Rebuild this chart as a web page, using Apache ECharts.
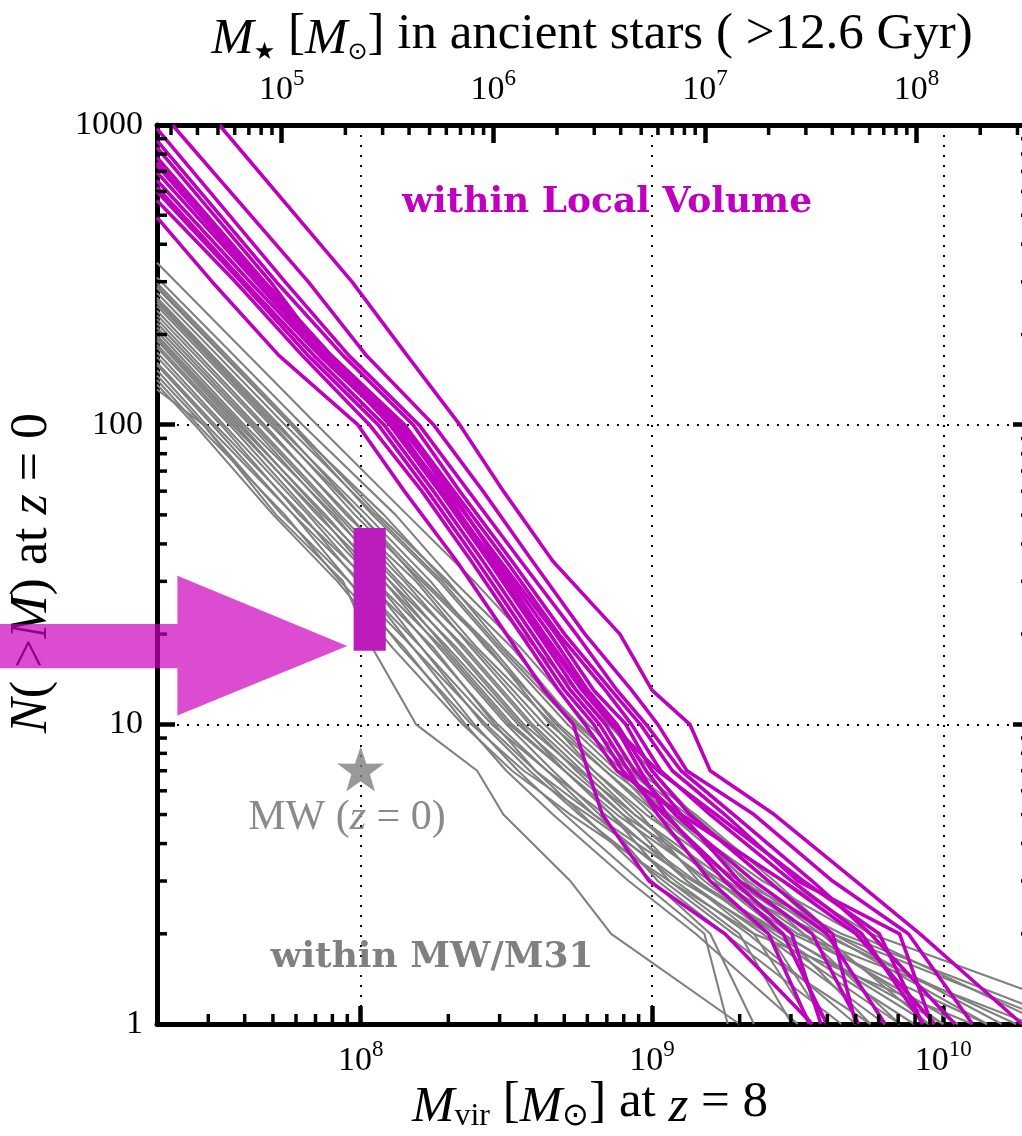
<!DOCTYPE html>
<html><head><meta charset="utf-8">
<script src="https://cdn.jsdelivr.net/npm/echarts@6/dist/echarts.min.js"></script>
<style>html,body{margin:0;padding:0;background:#fff}#c{width:1022px;height:1136px}</style>
</head><body><div id="c"></div>
<script>
// ---------------- data ----------------
const xRange = [2e7, 2e10];            // M_vir at z=8
const yRange = [1, 1000];              // N(>M)
const topRange = [2.576e4, 3.475e8];   // M_star in ancient stars, matched to the bottom axis
const xMinorTicks = [3e7,4e7,5e7,6e7,7e7,8e7,9e7,2e8,3e8,4e8,5e8,6e8,7e8,8e8,9e8,2e9,3e9,4e9,5e9,6e9,7e9,8e9,9e9];
const yMinorTicks = [2,3,4,5,6,7,8,9,20,30,40,50,60,70,80,90,200,300,400,500,600,700,800,900];
const topMinorTicks = [3e4,4e4,5e4,6e4,7e4,8e4,9e4,2e5,3e5,4e5,5e5,6e5,7e5,8e5,9e5,2e6,3e6,4e6,5e6,6e6,7e6,8e6,9e6,2e7,3e7,4e7,5e7,6e7,7e7,8e7,9e7,2e8,3e8];

// gray (within MW/M31): first value = N at M=2e7, then log10 M at each N level
const grayLevels = [100, 50, 30, 18, 10, 7, 5, 3, 2, 1];
const grayLines = [
  [347, 7.85, 8.16, 8.39, 8.60, 8.85, 9.00, 9.14, 9.40, 9.60, 10.15],
  [310, 7.80, 8.12, 8.32, 8.55, 8.78, 8.95, 9.15, 9.42, 9.62, 10.40],
  [297, 7.77, 8.06, 8.30, 8.49, 8.75, 8.92, 9.10, 9.32, 9.52, 9.85],
  [290, 7.76, 8.08, 8.29, 8.52, 8.74, 8.93, 9.12, 9.45, 9.75, 10.60],
  [286, 7.76, 8.04, 8.27, 8.47, 8.71, 8.88, 9.02, 9.28, 9.62, 10.20],
  [275, 7.74, 8.05, 8.28, 8.48, 8.73, 8.90, 9.06, 9.38, 9.70, 10.35],
  [265, 7.72, 8.00, 8.22, 8.45, 8.67, 8.84, 9.00, 9.22, 9.45, 9.75],
  [260, 7.71, 8.02, 8.24, 8.43, 8.68, 8.86, 9.06, 9.33, 9.58, 9.95],
  [255, 7.70, 7.98, 8.21, 8.44, 8.65, 8.84, 9.02, 9.28, 9.55, 10.00],
  [249, 7.69, 8.00, 8.20, 8.40, 8.66, 8.80, 8.96, 9.16, 9.40, 9.60],
  [240, 7.67, 7.95, 8.19, 8.38, 8.61, 8.78, 8.94, 9.22, 9.48, 10.15],
  [232, 7.66, 7.96, 8.16, 8.39, 8.63, 8.80, 8.98, 9.30, 9.65, 10.45],
  [225, 7.64, 7.93, 8.15, 8.35, 8.58, 8.74, 8.90, 9.12, 9.35, 9.55],
  [218, 7.63, 7.92, 8.13, 8.36, 8.59, 8.76, 8.92, 9.18, 9.42, 9.90],
  [211, 7.62, 7.90, 8.12, 8.32, 8.55, 8.70, 8.86, 9.06, 9.30, 9.48],
  [205, 7.60, 7.91, 8.10, 8.33, 8.56, 8.75, 8.94, 9.26, 9.52, 10.05],
  [199, 7.59, 7.87, 8.10, 8.29, 8.52, 8.70, 8.86, 9.12, 9.38, 9.80],
  [195, 7.58, 7.88, 8.08, 8.30, 8.54, 8.72, 8.90, 9.24, 9.50, 10.30],
  [191, 7.57, 7.85, 8.08, 8.27, 8.50, 8.66, 8.82, 9.02, 9.25, 9.65],
  [185, 7.56, 7.86, 8.05, 8.28, 8.51, 8.70, 8.88, 9.20, 9.58, 10.25],
  [181, 7.55, 7.83, 8.05, 8.24, 8.47, 8.64, 8.80, 9.08, 9.33, 9.70],
  [174, 7.53, 7.82, 8.02, 8.25, 8.46, 8.60, 8.76, 9.00, 9.20, 9.35],
  [168, 7.52, 7.79, 8.03, 8.21, 8.45, 8.64, 8.84, 9.15, 9.45, 9.95],
  [161, 7.50, 7.80, 7.99, 8.21, 8.42, 8.58, 8.75, 9.04, 9.28, 9.75],
  [158, 7.49, 7.77, 8.00, 8.18, 8.43, 8.60, 8.80, 9.14, 9.44, 10.00],
  [152, 7.47, 7.77, 7.96, 8.18, 8.39, 8.54, 8.70, 8.96, 9.18, 9.26],
  [146, 7.46, 7.73, 7.96, 8.14, 8.38, 8.56, 8.78, 9.10, 9.40, 9.85],
  [141, 7.44, 7.74, 7.93, 8.15, 8.36, 8.50, 8.66, 8.92, 9.15, 9.50],
  [136, 7.43, 7.70, 7.92, 8.11, 8.35, 8.52, 8.72, 9.06, 9.35, 10.10],
  [131, 7.46, 7.71, 7.94, 8.04, 8.19, 8.40, 8.49, 8.72, 8.86, 9.30]
];

// magenta (within Local Volume): [log10 M at start, N at start, then log10 M at each N level]
const lvLevels = [300, 170, 100, 60, 35, 20, 13, 10, 7, 5, 3, 2, 1];
const lvLines = [
  [7.515, 1000, 7.97, 8.16, 8.34, 8.49, 8.66, 8.89, 9.00, 9.13, 9.20, 9.42, 9.70, 9.92, 10.27],
  [7.354, 1000, 7.82, 8.02, 8.25, 8.42, 8.59, 8.77, 8.93, 9.02, 9.12, 9.35, 9.62, 9.88, 10.10],
  [7.301, 973, 7.74, 7.96, 8.20, 8.37, 8.55, 8.74, 8.88, 8.98, 9.10, 9.28, 9.55, 9.75, 10.04],
  [7.301, 887, 7.71, 7.94, 8.18, 8.34, 8.52, 8.70, 8.86, 8.96, 9.07, 9.25, 9.50, 9.85, 9.96],
  [7.301, 780, 7.67, 7.90, 8.15, 8.32, 8.50, 8.68, 8.84, 8.93, 9.03, 9.20, 9.48, 9.72, 9.93],
  [7.301, 750, 7.66, 7.89, 8.14, 8.30, 8.48, 8.67, 8.80, 8.91, 9.00, 9.13, 9.40, 9.62, 9.70],
  [7.301, 733, 7.65, 7.88, 8.13, 8.31, 8.47, 8.65, 8.78, 8.88, 8.98, 9.10, 9.30, 9.55, 9.71],
  [7.301, 695, 7.64, 7.87, 8.12, 8.28, 8.46, 8.63, 8.77, 8.87, 8.96, 9.05, 9.25, 9.45, 9.60],
  [7.301, 653, 7.62, 7.86, 8.11, 8.29, 8.45, 8.62, 8.76, 8.86, 9.02, 9.22, 9.52, 9.78, 9.93],
  [7.301, 840, 7.69, 7.88, 8.10, 8.27, 8.44, 8.61, 8.74, 8.84, 8.94, 9.08, 9.35, 9.60, 9.80],
  [7.301, 620, 7.60, 7.84, 8.08, 8.25, 8.42, 8.59, 8.72, 8.82, 8.92, 9.02, 9.20, 9.40, 9.54],
  [7.301, 600, 7.59, 7.82, 8.06, 8.23, 8.40, 8.57, 8.70, 8.80, 8.90, 9.04, 9.28, 9.48, 9.58],
  [7.301, 560, 7.57, 7.80, 8.03, 8.21, 8.38, 8.55, 8.68, 8.77, 8.88, 9.10, 9.45, 9.70, 9.97],
  [7.301, 492, 7.49, 7.72, 7.99, 8.15, 8.33, 8.50, 8.63, 8.73, 8.78, 8.83, 8.99, 9.25, 9.55]
];

// annotations
const arrowM = [1e6, 2.35e7, 9.0e7];          // tail, head base, tip
const arrowN = [10.7, 15.4, 18.27, 21.6, 31.3]; // head bottom, shaft bottom, centre, shaft top, head top
const obsBoxM = [9.46e7, 1.22e8];
const obsBoxN = [17.6, 45.2];
const mwStar = [1e8, 7.1];

// ---------------- chart ----------------
const SERIF = 'Liberation Serif';
const isPow10 = v => Math.abs(Math.log10(v) - Math.round(Math.log10(v))) < 1e-6;
const powLabel = v => isPow10(v) ? '{b|10}{s|' + Math.round(Math.log10(v)) + '}' : '';
const powRich = {
  b: {fontFamily: SERIF, fontSize: 34, color: '#000', lineHeight: 40, verticalAlign: 'bottom'},
  s: {fontFamily: SERIF, fontSize: 23, color: '#000', lineHeight: 24, verticalAlign: 'top'}
};
const dotted = {show: true, lineStyle: {color: '#000', width: 2, type: [2, 8]}};
const spine = {show: true, lineStyle: {color: '#000', width: 5}};
const majorTick = {show: true, inside: true, length: 18, lineStyle: {color: '#000', width: 4.5}};

const toPts = (startM, startN, levels, logMs) =>
  [[Math.pow(10, startM), startN]].concat(levels.map((n, i) => [Math.pow(10, logMs[i]), n]));

const series = [];
grayLines.forEach((g, i) => series.push({
  type: 'line', name: 'gray' + i, xAxisIndex: 0, yAxisIndex: 0, symbol: 'none', silent: true,
  lineStyle: {color: '#808080', width: 2.1, join: 'round'}, z: 2,
  data: toPts(Math.log10(xRange[0]), g[0], grayLevels, g.slice(1))
}));
lvLines.forEach((l, i) => series.push({
  type: 'line', name: 'lv' + i, xAxisIndex: 0, yAxisIndex: 0, symbol: 'none', silent: true,
  lineStyle: {color: '#bf00bf', width: 3.6, join: 'round'}, z: 3,
  data: toPts(l[0], l[1], lvLevels, l.slice(2))
}));

function tickSeries(xIdx, data, dx, dy, width) {
  return {
    type: 'custom', xAxisIndex: xIdx, yAxisIndex: 0, silent: true, clip: false, z: 6,
    data: data,
    renderItem: (p, api) => {
      const c = api.coord([api.value(0), api.value(1)]);
      return {type: 'line', shape: {x1: c[0], y1: c[1], x2: c[0] + dx, y2: c[1] + dy},
              style: {stroke: '#000', lineWidth: width}};
    }
  };
}
series.push(tickSeries(0, xMinorTicks.map(v => [v, yRange[0]]), 0, -10, 3.5));
series.push(tickSeries(0, yMinorTicks.map(v => [xRange[0], v]), 10, 0, 3.5));
series.push(tickSeries(0, yMinorTicks.map(v => [xRange[1], v]), -10, 0, 3.5));
series.push(tickSeries(1, topMinorTicks.map(v => [v, yRange[1]]), 0, 10, 3.5));

series.push({
  type: 'custom', xAxisIndex: 0, yAxisIndex: 0, silent: true, clip: false, z: 8,
  data: [[obsBoxM[0], obsBoxN[0]]],
  renderItem: (p, api) => {
    const a = api.coord([obsBoxM[0], obsBoxN[1]]), b = api.coord([obsBoxM[1], obsBoxN[0]]);
    return {type: 'rect', shape: {x: a[0], y: a[1], width: b[0] - a[0], height: b[1] - a[1]},
            style: {fill: '#bb1cbb'}};
  }
});
series.push({
  type: 'custom', xAxisIndex: 0, yAxisIndex: 0, silent: true, clip: false, z: 9,
  data: [[arrowM[2], arrowN[2]]],
  renderItem: (p, api) => {
    const P = (m, n) => api.coord([m, n]);
    const pts = [P(arrowM[0], arrowN[3]), P(arrowM[1], arrowN[3]), P(arrowM[1], arrowN[4]),
                 P(arrowM[2], arrowN[2]), P(arrowM[1], arrowN[0]), P(arrowM[1], arrowN[1]),
                 P(arrowM[0], arrowN[1])];
    return {type: 'polygon', shape: {points: pts}, style: {fill: 'rgba(204,0,190,0.7)'}};
  }
});
series.push({
  type: 'scatter', xAxisIndex: 0, yAxisIndex: 0, silent: true, z: 8,
  symbol: 'path://M50,0 L61.8,35.3 L98.1,34.5 L69,56.5 L79.4,91.3 L50,70.6 L20.6,91.3 L31,56.5 L1.9,34.5 L38.2,35.3 Z',
  symbolSize: [47, 45], itemStyle: {color: '#808080'},
  data: [mwStar]
});

const option = {
  animation: false,
  backgroundColor: '#fff',
  grid: {left: 157, top: 125, right: -9, bottom: 112, containLabel: false, outerBoundsMode: 'none'},
  xAxis: [
    {type: 'log', logBase: 10, min: xRange[0], max: xRange[1], position: 'bottom',
     axisLine: spine, axisTick: majorTick, splitLine: dotted, minorTick: {show: false},
     axisLabel: {formatter: powLabel, rich: powRich, margin: 14, hideOverlap: false}},
    {type: 'log', logBase: 10, min: topRange[0], max: topRange[1], position: 'top',
     axisLine: spine, axisTick: majorTick, splitLine: {show: false},
     axisLabel: {formatter: powLabel, rich: powRich, margin: 18, hideOverlap: false}}
  ],
  yAxis: [
    {type: 'log', logBase: 10, min: yRange[0], max: yRange[1], position: 'left',
     axisLine: spine, axisTick: majorTick, splitLine: dotted,
     axisLabel: {formatter: v => isPow10(v) ? String(Math.round(v)) : '', fontFamily: SERIF,
                 fontSize: 34, color: '#000', margin: 14}},
    {type: 'log', logBase: 10, min: yRange[0], max: yRange[1], position: 'right',
     axisLine: spine, axisTick: majorTick, splitLine: {show: false}, axisLabel: {show: false}}
  ],
  graphic: [
    {type: 'text', z: 20, style: {
      x: 592, y: 35, align: 'center', verticalAlign: 'middle',
      text: '{i|M}{sub|★} [{i|M}{sub|⊙}] in ancient stars ( >12.6 Gyr)',
      rich: {
        i: {fontFamily: SERIF, fontStyle: 'italic', fontSize: 51, lineHeight: 60, verticalAlign: 'bottom'},
        sub: {fontFamily: 'DejaVu Sans', fontSize: 24, lineHeight: 24, verticalAlign: 'bottom'}
      },
      fontFamily: SERIF, fontSize: 51, fill: '#000'}},
    {type: 'text', z: 20, style: {
      x: 590, y: 1103, align: 'center', verticalAlign: 'middle',
      text: '{i|M}{sub|vir} [{i|M}{sub|⊙}] at {i|z} = 8',
      rich: {
        i: {fontFamily: SERIF, fontStyle: 'italic', fontSize: 51, lineHeight: 60, verticalAlign: 'bottom'},
        sub: {fontFamily: SERIF, fontSize: 32, lineHeight: 24, verticalAlign: 'bottom'}
      },
      fontFamily: SERIF, fontSize: 51, fill: '#000'}},
    {type: 'text', z: 1, x: 32, y: 573, rotation: Math.PI / 2, style: {
      x: 0, y: 0, align: 'center', verticalAlign: 'middle',
      text: '{i|N}( >{i|M}) at {i|z} = 0',
      rich: {i: {fontFamily: SERIF, fontStyle: 'italic', fontSize: 52}},
      fontFamily: SERIF, fontSize: 52, fill: '#000'}},
    {type: 'text', z: 20, style: {
      x: 347, y: 818, align: 'center', verticalAlign: 'middle',
      text: 'MW ({i|z} = 0)',
      rich: {i: {fontFamily: SERIF, fontStyle: 'italic', fontSize: 42, fill: '#8a8a8a'}},
      fontFamily: SERIF, fontSize: 42, fill: '#8a8a8a'}},
    {type: 'text', z: 20, style: {
      x: 607, y: 203, align: 'center', verticalAlign: 'middle', text: 'within Local Volume',
      fontFamily: 'DejaVu Serif', fontWeight: 'bold', fontSize: 36, fill: '#bf00bf'}},
    {type: 'text', z: 20, style: {
      x: 432, y: 958, align: 'center', verticalAlign: 'middle', text: 'within MW/M31',
      fontFamily: 'DejaVu Serif', fontWeight: 'bold', fontSize: 36, fill: '#808080'}}
  ],
  series: series
};
const chart = echarts.init(document.getElementById('c'), null, {renderer: 'canvas'});
chart.setOption(option);
</script></body></html>
